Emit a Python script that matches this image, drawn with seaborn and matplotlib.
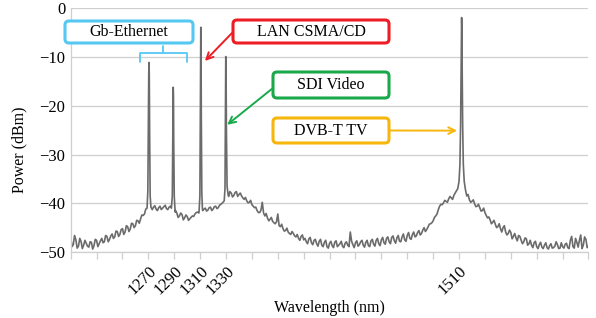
import numpy as np
import matplotlib
matplotlib.use("Agg")
import matplotlib.pyplot as plt
import seaborn as sns
from matplotlib.patches import FancyBboxPatch
from matplotlib.lines import Line2D
from matplotlib.transforms import IdentityTransform

# background spectrum read at even nm (1210..1610), nan where a peak takes over
even_db = [
    -47.0, -48.5, -47.5, -48.8, -47.8, -48.6, -48.2, -49.0, -48.0, -48.7,   # 1210-1228
    -47.6, -48.3, -47.2, -47.9, -46.8, -47.4, -46.3, -46.9, -45.8, -46.4,   # 1230-1248
    -45.2, -45.9, -44.8, -45.3, -44.2, -44.6, -43.6, -43.2, -42.5, -41.2,   # 1250-1268
    np.nan, np.nan, -40.8, -41.2, -40.9, -41.3, -40.7, -41.1, -40.8, np.nan,  # 1270-1288
    np.nan, -42.0, -42.6, -42.3, -43.0, -42.7, -43.2, -42.6, -42.2, -41.8,  # 1290-1308
    np.nan, -41.5, -41.0, -41.4, -40.8, -41.2, -40.6, -40.9, -40.2, np.nan, # 1310-1328
    np.nan, -38.6, -37.9, -38.4, -37.6, -38.2, -38.5, -39.2, -39.5, -39.8,  # 1330-1348
    -40.3, -40.9, -41.5, -41.9, -39.8, -42.6, -43.0, -43.3, -43.7, -44.2,   # 1350-1368
    -42.2, -44.8, -45.2, -45.6, -45.9, -46.4, -46.2, -46.9, -47.2, -46.8,   # 1370-1388
    -47.5, -47.9, -47.3, -48.1, -47.6, -48.3, -47.8, -48.6, -48.0, -48.9,   # 1390-1408
    -48.2, -48.7, -48.0, -48.9, -48.3, -48.8, -48.2, -48.6, -45.9, -48.5,   # 1410-1428
    -48.1, -48.8, -47.9, -48.6, -48.0, -48.7, -47.7, -48.4, -47.6, -48.3,   # 1430-1448
    -47.5, -48.1, -47.2, -47.9, -47.0, -47.7, -47.1, -47.8, -46.9, -47.5,   # 1450-1468
    -46.6, -47.2, -46.4, -46.9, -46.0, -46.5, -45.5, -45.8, -44.9, -44.2,   # 1470-1488
    -43.6, -42.6, -41.3, -40.2, -39.9, -39.6, -39.1, -38.9, -38.4, np.nan,  # 1490-1508
    np.nan, np.nan, np.nan, -38.5, -39.3, -39.6, -40.1, -40.6, -40.9, -41.5,  # 1510-1528
    -41.9, -43.0, -43.4, -43.9, -44.3, -44.8, -45.2, -45.0, -45.9, -46.2,   # 1530-1548
    -46.0, -46.8, -47.1, -46.6, -47.6, -47.9, -47.3, -48.3, -48.6, -48.1,   # 1550-1568
    -48.9, -48.5, -49.0, -48.6, -49.1, -48.7, -49.2, -48.8, -48.5, -49.2,   # 1570-1588
    -48.9, -48.4, -49.1, -47.6, -48.9, -47.2, -49.0, -46.5, -48.6, -47.4,   # 1590-1608
    -48.8,                                                                  # 1610
]
# the same floor read at odd nm (1211..1609)
odd_db = [
    -48.9, -46.6, -49.2, -47.2, -49.3, -47.6, -48.8, -47.9, -49.4, -47.4,   # 1211-1229
    -48.9, -47.7, -48.1, -46.6, -47.9, -46.7, -47.2, -45.7, -46.8, -45.4,   # 1231-1249
    -46.4, -44.6, -45.8, -44.1, -45.0, -43.5, -44.1, -42.4, -42.2, np.nan,  # 1251-1269
    np.nan, -41.3, -40.5, -41.5, -40.6, -41.0, -40.4, -41.3, -40.6, np.nan, # 1271-1289
    -41.5, -42.9, -42.0, -43.4, -42.4, -43.5, -42.9, -42.7, -41.9, -42.0,   # 1291-1309
    np.nan, -41.2, -41.6, -40.9, -41.5, -40.7, -41.1, -40.4, -40.0, np.nan, # 1311-1329
    np.nan, -37.6, -38.7, -37.8, -38.6, -37.9, -38.9, -38.8, -39.9, -39.4,  # 1331-1349
    -40.6, -40.8, -41.9, -41.4, -42.0, -42.1, -43.6, -42.9, -44.0, -43.8,   # 1351-1369
    -44.6, -44.3, -45.7, -45.1, -46.2, -45.8, -46.7, -46.4, -47.6, -46.5,   # 1371-1389
    -47.2, -48.3, -47.0, -48.5, -47.4, -48.8, -47.4, -48.9, -47.6, -49.2,   # 1391-1409
    -47.8, -49.1, -47.7, -48.6, -47.8, -49.1, -47.9, -48.9, -47.8, -49.1,   # 1411-1429
    -47.7, -48.5, -47.6, -49.0, -47.6, -48.9, -47.4, -48.8, -47.2, -48.7,   # 1431-1449
    -47.0, -48.4, -46.9, -48.3, -46.7, -48.2, -46.6, -47.9, -46.3, -47.8,   # 1451-1469
    -46.0, -47.4, -45.9, -46.7, -45.6, -46.2, -45.0, -45.4, -44.3, -44.0,   # 1471-1489
    -42.9, -42.2, -40.6, -40.3, -39.4, -39.8, -38.6, -39.2, -37.9, np.nan,  # 1491-1509
    np.nan, np.nan, np.nan, -38.2, -39.8, -39.3, -40.7, -40.2, -41.6, -41.0,  # 1511-1529
    -42.5, -42.8, -44.2, -43.5, -45.0, -44.2, -45.9, -44.6, -46.5, -45.5,   # 1531-1549
    -47.3, -46.2, -47.7, -46.8, -48.3, -47.1, -48.6, -47.6, -49.1, -47.8,   # 1551-1569
    -49.3, -48.0, -49.3, -48.1, -49.4, -48.3, -49.1, -47.9, -49.3, -48.1,   # 1571-1589
    -49.2, -48.2, -49.3, -46.8, -49.2, -48.0, -47.6, -49.3, -46.9, -49.1,   # 1591-1609
]

# the five channel peaks, read point by point
peak_wl = [
    1269.0, 1269.6, 1270.0, 1270.3, 1270.5, 1270.7, 1271.0, 1271.4, 1272.0,
    1287.8, 1288.5, 1288.9, 1289.1, 1289.2, 1289.4, 1289.6, 1290.0, 1290.7,
    1309.2, 1309.8, 1310.2, 1310.4, 1310.5, 1310.7, 1310.9, 1311.3, 1311.8,
    1328.6, 1329.2, 1329.5, 1329.7, 1329.8, 1330.0, 1330.3, 1330.8, 1331.6,
    1509.0, 1510.0, 1510.7, 1511.2, 1511.6, 1511.85, 1512.0, 1512.15, 1512.4,
    1512.8, 1513.3, 1514.0, 1515.0,
]
peak_db = [
    -41.0, -37.5, -24.0, -13.5, -11.1, -13.5, -26.0, -38.5, -40.8,
    -41.0, -38.5, -26.0, -18.0, -16.2, -18.0, -27.0, -38.5, -41.8,
    -41.6, -38.5, -20.0, -6.5, -3.9, -7.0, -22.0, -38.0, -41.3,
    -39.5, -37.0, -22.0, -12.0, -9.9, -12.0, -25.0, -36.5, -38.2,
    -37.0, -35.5, -32.0, -24.0, -12.0, -4.0, -1.9, -4.0, -12.0,
    -24.0, -32.0, -35.5, -37.3,
]

labeled_ticks = [1270, 1290, 1310, 1330, 1510]

wl = np.concatenate([np.arange(1210, 1611, 2), np.arange(1211, 1610, 2), peak_wl])
db = np.concatenate([np.array(even_db, dtype=float), np.array(odd_db, dtype=float), peak_db])
keep = ~np.isnan(db)
order = np.argsort(wl[keep], kind="stable")
wl, db = wl[keep][order], db[keep][order]

sns.set_theme(style="whitegrid")
plt.rcParams["font.family"] = ["Liberation Serif", "DejaVu Serif"]

fig, ax = plt.subplots(figsize=(5.96, 3.18), dpi=100)
fig.subplots_adjust(left=0.1186, right=0.9874, bottom=0.2075, top=0.9739)

sns.lineplot(x=wl, y=db, sort=False, color="#6b6b6b", lw=1.2, ax=ax)

ax.set_xlim(1210, 1610)
ax.set_ylim(-50, 0)
ax.set_yticks(np.arange(-50, 1, 10))
xt = np.arange(1210, 1611, 20)
ax.set_xticks(xt)
ax.set_xticklabels([str(t) if t in labeled_ticks else "" for t in xt],
                   rotation=45, ha="right", rotation_mode="anchor")
ax.grid(axis="x", visible=False)
ax.grid(axis="y", color="#cfcfcf", lw=0.9)
for side in ["top", "right"]:
    ax.spines[side].set_visible(False)
for side in ["left", "bottom"]:
    ax.spines[side].set_color("#cfcfcf")
    ax.spines[side].set_linewidth(0.9)
ax.tick_params(axis="x", length=5, width=0.9, pad=3, labelsize=12,
               labelcolor="black", bottom=True, color="#cfcfcf")
ax.tick_params(axis="y", length=0, pad=4, labelsize=12, labelcolor="black")
ax.set_xlabel("Wavelength (nm)", fontsize=11.5, color="black")
ax.set_ylabel("Power (dBm)", fontsize=11.5, color="black")
ax.xaxis.set_label_coords(0.5, -0.195)
ax.yaxis.set_label_coords(-0.083, 0.42)

# annotation boxes, in figure pixels
boxes = [
    ("Gb-Ethernet", 65, 193, 21, 43, "#55c8f2"),
    ("LAN CSMA/CD", 233, 389, 20, 43, "#ee1d25"),
    ("SDI Video", 273, 389, 72, 98, "#1aa94a"),
    ("DVB-T TV", 273, 389, 118, 143, "#f6b60c"),
]
H = 318
for label, x0, x1, y0, y1, col in boxes:
    fig.add_artist(FancyBboxPatch((x0, H - y1), x1 - x0, y1 - y0,
                                  boxstyle="round,pad=0,rounding_size=4",
                                  transform=IdentityTransform(),
                                  fc="white", ec=col, lw=2.2, zorder=5))
    fig.text((x0 + x1) / 2 / 596, 1 - (y0 + y1) / 2 / H, label,
             ha="center", va="center", fontsize=11.5, color="black", zorder=6)

# bracket under Gb-Ethernet
bc = "#55c8f2"
for xs, ys in [([140, 140, 187, 187], [62, 53, 53, 62]), ([163, 163], [53, 46])]:
    fig.add_artist(Line2D(xs, [H - y for y in ys], transform=IdentityTransform(),
                          color=bc, lw=1.3, zorder=5))

arrows = [
    ((232, H - 33), (1313.7, -10.8), "#ee1d25"),
    ((273, H - 88), (1330.9, -23.9), "#1aa94a"),
    ((389, H - 130.5), (1508.5, -25.1), "#f6b60c"),
]
for start, end, col in arrows:
    ax.annotate("", xy=end, xycoords="data", xytext=start,
                textcoords="figure pixels",
                arrowprops=dict(arrowstyle="->", color=col, lw=1.4,
                                mutation_scale=12, shrinkA=0, shrinkB=0),
                annotation_clip=False, zorder=6)

plt.savefig("out.png", dpi=100)
plt.close("all")
